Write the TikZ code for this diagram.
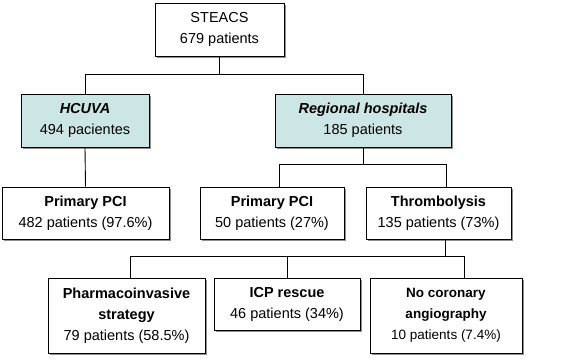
\documentclass[tikz,border=0pt]{standalone}
\usepackage{fontspec}
\setmainfont{Liberation Sans}
\usepackage{tikz}
\usetikzlibrary{positioning,shadows}
\definecolor{siteteal}{RGB}{204,229,229}

\begin{document}
\begin{tikzpicture}[x=1pt,y=-1pt,
  every node/.style={font=\fontsize{14.5}{21}\selectfont},
  flowbox/.style={draw, line width=0.9pt, fill=white, align=center, inner sep=0pt,
    drop shadow={shadow xshift=2pt, shadow yshift=-2pt, fill=black!55, opacity=0.8}},
  sitebox/.style={flowbox, fill=siteteal},
  link/.style={line width=0.9pt}]
\useasboundingbox (0,0) rectangle (576,361);
% top level
\node[flowbox, minimum width=129, minimum height=53] (steacs) at (219.5,29.5) {STEACS\\679 patients};
% hospitals
\node[sitebox, minimum width=128, minimum height=53] (hcuva) at (85,120.5) {\textbf{\textit{HCUVA}}\\494 pacientes};
\node[sitebox, minimum width=176, minimum height=53] (regional) at (363,120.5) {\textbf{\textit{Regional hospitals}}\\185 patients};
% treatments
\node[flowbox, minimum width=167, minimum height=52] (pcia) at (85.5,213) {\textbf{Primary PCI}\\482 patients (97.6\%)};
\node[flowbox, minimum width=144, minimum height=52] (pcib) at (272,213) {\textbf{Primary PCI}\\50 patients (27\%)};
\node[flowbox, minimum width=145, minimum height=52] (thromb) at (438.5,213) {\textbf{Thrombolysis}\\135 patients (73\%)};
% after thrombolysis
\node[flowbox, minimum width=157, minimum height=75] (pharma) at (126.5,315.5) {\textbf{Pharmacoinvasive}\\\textbf{strategy}\\79 patients (58.5\%)};
\node[flowbox, minimum width=146, minimum height=52] (icp) at (287,304) {\textbf{ICP rescue}\\46 patients (34\%)};
\node[flowbox, minimum width=152, minimum height=75, font=\fontsize{13.5}{21}\selectfont] (nocor) at (446,315.5) {\textbf{No coronary}\\\textbf{angiography}\\10 patients (7.4\%)};

% connectors
\draw[link] (steacs.south) -- ++(0,18) coordinate (j1);
\draw[link] (hcuva.north) |- (j1) -| (regional.north);
\draw[link] (hcuva.south) -- (pcia.north);
\draw[link] (regional.south) -- ++(0,17) coordinate (j2);
\draw[link] ([xshift=7pt]pcib.north) |- (j2) -| ([xshift=7.5pt]thromb.north);
\draw[link] ([xshift=6.5pt]thromb.south) -- ++(0,17) coordinate (j3);
\draw[link] ([xshift=3.5pt]pharma.north) |- (j3) -| ([xshift=18pt]nocor.north);
\draw[link] (icp.north) -- (icp.north |- j3);
\end{tikzpicture}
\end{document}
